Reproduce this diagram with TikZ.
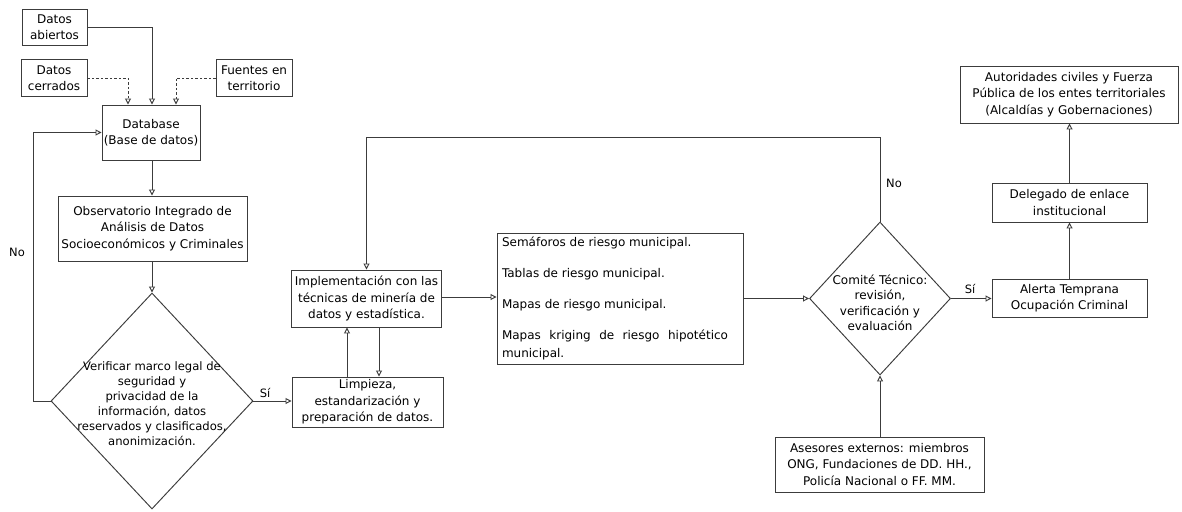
\documentclass[tikz,border=0pt]{standalone}
\usepackage{fontspec}
\setmainfont{DejaVu Sans}
\usetikzlibrary{shapes.geometric,arrows.meta}
\definecolor{linec}{HTML}{3C3C3C}
\begin{document}
\begin{tikzpicture}[x=1pt,y=-1pt,
  every node/.style={font=\fontsize{12}{16.5}\selectfont, text=black},
  box/.style={draw=linec, line width=0.95pt, fill=white, align=center, inner sep=0pt},
  decision/.style={draw=linec, line width=0.95pt, diamond, inner sep=0pt},
  arr/.style={draw=linec, line width=0.95pt, -{Triangle[open,length=6pt,width=6pt]}},
  dsh/.style={arr, dash pattern=on 2.5pt off 2pt},
  lbl/.style={font=\fontsize{11.5}{13}\selectfont}
]
\useasboundingbox (0,0) rectangle (1182,511);

% nodes
\node[box, minimum width=65pt, minimum height=36pt] (abiertos) at (54.5,27) {Datos\\abiertos};
\node[box, minimum width=66pt, minimum height=37pt] (cerrados) at (54,78) {Datos\\cerrados};
\node[box, minimum width=76pt, minimum height=37pt] (fuentes) at (254,78) {Fuentes en\\territorio};
\node[box, minimum width=98pt, minimum height=55pt] (db) at (151,132.5) {Database\\(Base de datos)};
\node[box, minimum width=189pt, minimum height=65pt] (obs) at (152.5,228.5) {Observatorio Integrado de\\Análisis de Datos\\Socioeconómicos y Criminales};
\node[decision, minimum width=202pt, minimum height=216pt] (verif) at (152,401) {};
\node[align=center, font=\fontsize{11.6}{15}\selectfont] (veriftext) at (152,404) {Verificar marco legal de\\seguridad y\\privacidad de la\\información, datos\\reservados y clasificados,\\anonimización.};
\node[box, minimum width=150pt, minimum height=57pt] (impl) at (366.5,298.5) {Implementación con las\\técnicas de minería de\\datos y estadística.};
\node[box, minimum width=151pt, minimum height=50pt] (limp) at (367.5,402) {Limpieza,\\estandarización y\\preparación de datos.};
\node[box, minimum width=246pt, minimum height=131pt, text width=226pt, inner xsep=10pt, align=justify, font=\fontsize{12}{18}\selectfont] (sem) at (620,298.5)
 {\leftskip=-5pt\rightskip=5pt\setlength{\parskip}{13pt}Semáforos de riesgo municipal.\par Tablas de riesgo municipal.\par Mapas de riesgo municipal.\par Mapas kriging de riesgo hipotético \mbox{municipal.}\par};
\node[decision, minimum width=141pt, minimum height=153pt] (comite) at (880,298.5) {};
\node[align=center, font=\fontsize{12}{15.5}\selectfont] (comitetext) at (880,303) {Comité Técnico:\\revisión,\\verificación y\\evaluación};
\node[box, minimum width=155pt, minimum height=38pt] (alerta) at (1069.5,298) {Alerta Temprana\\Ocupación Criminal};
\node[box, minimum width=155pt, minimum height=39pt] (delegado) at (1069.5,202.5) {Delegado de enlace\\institucional};
\node[box, minimum width=218pt, minimum height=57pt] (autoridades) at (1069,94.5) {Autoridades civiles y Fuerza\\Pública de los entes territoriales\\(Alcaldías y Gobernaciones)};
\node[box, minimum width=209pt, minimum height=55pt] (asesores) at (879.5,464.5) {Asesores externos: miembros\\ONG, Fundaciones de DD. HH.,\\Policía Nacional o FF. MM.};

% helper coordinates
\coordinate (noX) at (33,0);
\coordinate (upX) at (347,0);
\coordinate (dnX) at (379,0);
\coordinate (topY) at (0,137);

% connectors
\draw[arr] (abiertos.east) -| ([xshift=1pt]db.north);
\draw[dsh] (cerrados.east) -| ([xshift=-23pt]db.north);
\draw[dsh] (fuentes.west) -| ([xshift=25pt]db.north);
\draw[arr] ([xshift=1pt]db.south) -- ([xshift=1pt]db.south |- obs.north);
\draw[arr] (obs.south -| verif.north) -- (verif.north);
\draw[arr] (verif.west) -- (verif.west -| noX) |- (db.west);
\draw[arr] (verif.east) -- (verif.east -| limp.west);
\draw[arr] (upX |- limp.north) -- (upX |- impl.south);
\draw[arr] (dnX |- impl.south) -- (dnX |- limp.north);
\draw[arr] ([yshift=1.5pt]impl.east) -- ([yshift=1.5pt]impl.east -| sem.west);
\draw[arr] (sem.east) -- (comite.west);
\draw[arr] (comite.north) -- (comite.north |- topY) -| (impl.north);
\draw[arr] (comite.east) -- (comite.east -| alerta.west);
\draw[arr] (alerta.north) -- (delegado.south);
\draw[arr] (delegado.north) -- (autoridades.south -| delegado.north);
\draw[arr] (asesores.north -| comite.south) -- (comite.south);

% labels
\node[lbl] (no1) at (17,252) {No};
\node[lbl] (si1) at (265,393) {Sí};
\node[lbl] (no2) at (894,183) {No};
\node[lbl] (si2) at (970,289) {Sí};
\end{tikzpicture}
\end{document}
